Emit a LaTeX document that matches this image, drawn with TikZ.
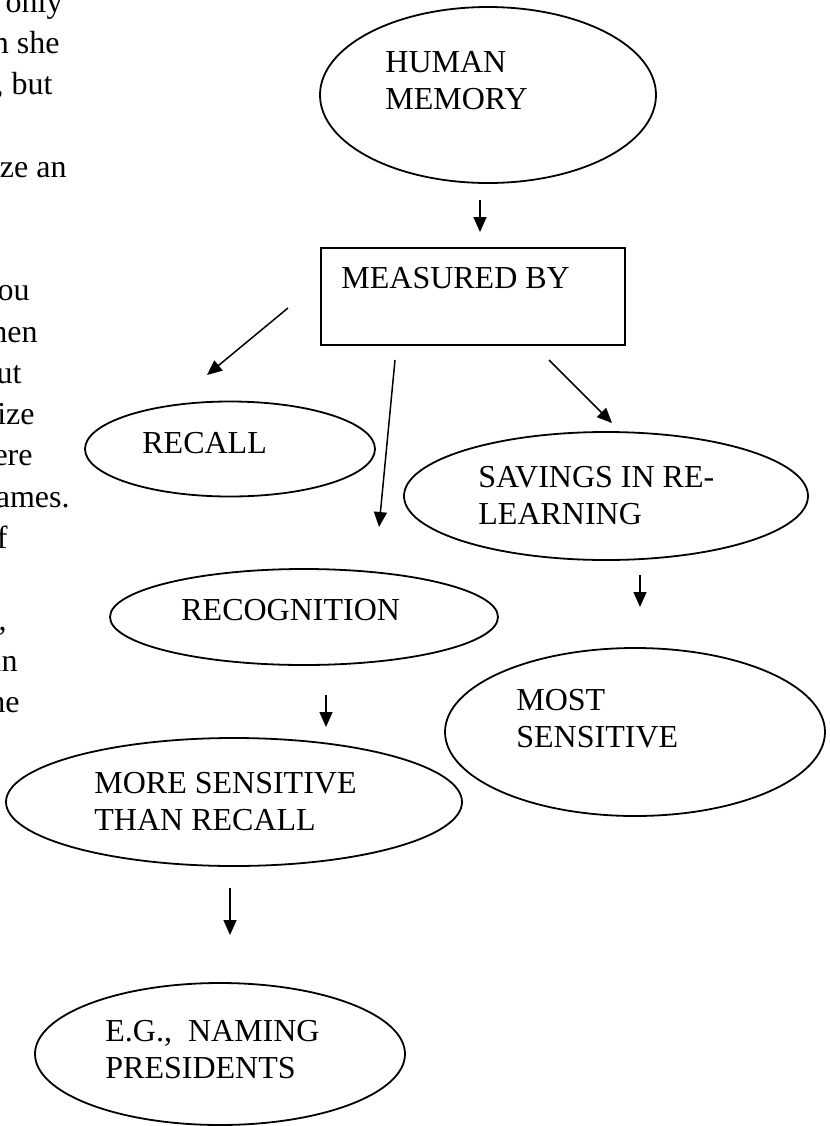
\documentclass[tikz,border=0pt]{standalone}
\usepackage{fontspec}
\setmainfont{Liberation Serif}
\usetikzlibrary{shapes.geometric,arrows.meta}
\begin{document}
\begin{tikzpicture}[x=0.5pt,y=-0.5pt,
  bubble/.style={draw,ellipse,line width=0.9pt,inner sep=0pt,outer sep=0pt},
  box/.style={draw,rectangle,line width=0.9pt,inner sep=0pt,outer sep=0pt},
  % captions are placed by the baseline of their last line
  caption/.style={anchor=base west,inner sep=0pt,align=left,
    font=\fontsize{16}{18.5}\selectfont},
  margin/.style={anchor=base east,inner sep=0pt,font=\fontsize{16}{20.6}\selectfont},
  link/.style={line width=0.75pt,-{Triangle[length=7.5pt,width=6.5pt]}}]
\useasboundingbox (0,0) rectangle (830,1126);
\clip (0,0) rectangle (830,1126);

% body text running down the left edge of the page
\node[margin] (m1) at (63,12) {t only};
\node[margin] (m2) at (60,53) {n she};
\node[margin] (m3) at (53,94) {, but};
\node[margin] (m4) at (67,177) {ze an};
\node[margin] (m5) at (30,300) {ou};
\node[margin] (m6) at (38,342) {hen};
\node[margin] (m7) at (22,383) {ut};
\node[margin] (m8) at (35,424) {ize};
\node[margin] (m9) at (33,465) {ere};
\node[margin] (m10) at (70,507) {ames.};
\node[margin] (m11) at (8,548) {f};
\node[margin] (m12) at (7,630) {,};
\node[margin] (m13) at (18,671) {in};
\node[margin] (m14) at (20,712) {he};

% concept map
\node[bubble,minimum width=168pt,minimum height=88pt] (human) at (488,95) {};
\node[caption] (humanT) at (385,109) {HUMAN\\MEMORY};

\node[box,minimum width=152pt,minimum height=48.5pt] (measured) at (473,296.5) {};
\node[caption] (measuredT) at (341,288) {MEASURED BY};

\node[bubble,minimum width=145pt,minimum height=47.5pt] (recall) at (230,449) {};
\node[caption] (recallT) at (142,453) {RECALL};

\node[bubble,minimum width=202pt,minimum height=64pt] (savings) at (606,496) {};
\node[caption] (savingsT) at (478,524) {SAVINGS IN RE-\\LEARNING};

\node[bubble,minimum width=194pt,minimum height=48pt] (recog) at (304,617) {};
\node[caption] (recogT) at (181,620) {RECOGNITION};

\node[bubble,minimum width=190pt,minimum height=84pt] (most) at (635,732) {};
\node[caption] (mostT) at (516,747) {MOST\\SENSITIVE};

\node[bubble,minimum width=228pt,minimum height=64pt] (more) at (234,802) {};
\node[caption] (moreT) at (94,830) {MORE SENSITIVE\\THAN RECALL};

\node[bubble,minimum width=185pt,minimum height=71pt] (eg) at (220,1054) {};
\node[caption] (egT) at (105,1078) {E.G.,\ \ NAMING\\PRESIDENTS};

% arrow end points
\coordinate (a1s) at (480,200);  \coordinate (a1e) at (480,232);
\coordinate (a2s) at (288,308);  \coordinate (a2e) at (207,375);
\coordinate (a3s) at (395,360);  \coordinate (a3e) at (379,527);
\coordinate (a4s) at (549,360);  \coordinate (a4e) at (612,423);
\coordinate (a5s) at (640,575);  \coordinate (a5e) at (640,607);
\coordinate (a6s) at (326,695);  \coordinate (a6e) at (326,727);
\coordinate (a7s) at (230,888);  \coordinate (a7e) at (230,935);

\draw[link] (a1s) -- (a1e);
\draw[link] (a2s) -- (a2e);
\draw[link] (a3s) -- (a3e);
\draw[link] (a4s) -- (a4e);
\draw[link] (a5s) -- (a5e);
\draw[link] (a6s) -- (a6e);
\draw[link] (a7s) -- (a7e);
\end{tikzpicture}
\end{document}
